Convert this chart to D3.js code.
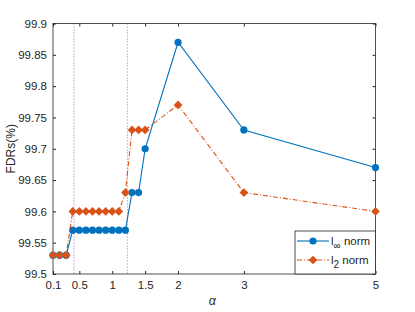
<!DOCTYPE html>
<html>
<head>
<meta charset="utf-8">
<script src="https://cdn.jsdelivr.net/npm/d3@7"></script>
<style>
  body { margin: 0; background: #fff; }
  text { font-family: "Liberation Sans", Arial, sans-serif; fill: #262626; }
</style>
</head>
<body>
<svg id="chart" width="415" height="312"></svg>
<script>
// alpha values for each run
const alphaInf = [0.1, 0.2, 0.3, 0.4, 0.5, 0.6, 0.7, 0.8, 0.9, 1.0, 1.1, 1.2, 1.3, 1.4, 1.5, 2, 3, 5];
const fdrInf   = [99.53, 99.53, 99.53, 99.57, 99.57, 99.57, 99.57, 99.57, 99.57, 99.57, 99.57, 99.57, 99.63, 99.63, 99.7, 99.87, 99.73, 99.67];
const alphaL2  = [0.1, 0.2, 0.3, 0.4, 0.5, 0.6, 0.7, 0.8, 0.9, 1.0, 1.1, 1.2, 1.3, 1.4, 1.5, 2, 3, 5];
const fdrL2    = [99.53, 99.53, 99.53, 99.6, 99.6, 99.6, 99.6, 99.6, 99.6, 99.6, 99.6, 99.63, 99.73, 99.73, 99.73, 99.77, 99.63, 99.6];
const xTicks = [0.1, 0.5, 1, 1.5, 2, 3, 5];
const yTicks = [99.5, 99.55, 99.6, 99.65, 99.7, 99.75, 99.8, 99.85, 99.9];
const thresholds = [0.42, 1.23];

const blue = '#0072BD', orange = '#D95319';
const pLeft = 53, pRight = 375.5, pTop = 23.5, pBottom = 274;

const svg = d3.select('#chart');
const x = d3.scaleLinear().domain([0.1, 5]).range([pLeft, pRight]);
const y = d3.scaleLinear().domain([99.5, 99.9]).range([pBottom, pTop]);

// threshold lines
svg.append('g').selectAll('line')
  .data(thresholds)
  .join('line')
  .attr('x1', d => x(d)).attr('x2', d => x(d))
  .attr('y1', pTop).attr('y2', pBottom)
  .attr('stroke', '#a862c4')
  .attr('stroke-width', 1)
  .attr('stroke-dasharray', '1,2');

// axes (ticks inside, box)
const axStyle = g => {
  g.select('.domain').remove();
  g.selectAll('line').attr('stroke', '#262626');
  g.selectAll('text').attr('font-size', 11.5).attr('fill', '#262626')
    .attr('font-family', '"Liberation Sans", Arial, sans-serif');
};
svg.append('g').attr('transform', `translate(0,${pBottom})`)
  .call(d3.axisBottom(x).tickValues(xTicks).tickSizeInner(-3).tickSizeOuter(0).tickPadding(7).tickFormat(d3.format('')))
  .call(axStyle);
svg.append('g').attr('transform', `translate(0,${pTop})`)
  .call(d3.axisTop(x).tickValues(xTicks).tickSizeInner(-3).tickSizeOuter(0).tickFormat(''))
  .call(axStyle);
svg.append('g').attr('transform', `translate(${pLeft},0)`)
  .call(d3.axisLeft(y).tickValues(yTicks).tickSizeInner(-3).tickSizeOuter(0).tickPadding(6).tickFormat(d3.format('')))
  .call(axStyle);
svg.append('g').attr('transform', `translate(${pRight},0)`)
  .call(d3.axisRight(y).tickValues(yTicks).tickSizeInner(-3).tickSizeOuter(0).tickFormat(''))
  .call(axStyle);
svg.append('rect')
  .attr('x', pLeft).attr('y', pTop).attr('width', pRight - pLeft).attr('height', pBottom - pTop)
  .attr('fill', 'none').attr('stroke', '#262626').attr('stroke-width', 0.8);

// labels
svg.append('text').attr('x', x(2.52)).attr('y', 305).attr('text-anchor', 'middle')
  .attr('font-size', 12.5).attr('font-style', 'italic')
  .attr('font-family', '"Liberation Serif", serif').text('α');
svg.append('text').attr('transform', `translate(15,${(pTop + pBottom) / 2}) rotate(-90)`)
  .attr('text-anchor', 'middle').attr('font-size', 12).text('FDRs(%)');

// series
const line = d3.line().x(d => x(d[0])).y(d => y(d[1]));
const infData = alphaInf.map((a, i) => [a, fdrInf[i]]);
const l2Data = alphaL2.map((a, i) => [a, fdrL2[i]]);
const diamond = d3.symbol().type(d3.symbolDiamond2).size(48);

svg.append('path').datum(infData).attr('d', line)
  .attr('fill', 'none').attr('stroke', blue).attr('stroke-width', 1.1);
svg.append('g').selectAll('circle').data(infData).join('circle')
  .attr('cx', d => x(d[0])).attr('cy', d => y(d[1])).attr('r', 3.6).attr('fill', blue);

svg.append('path').datum(l2Data).attr('d', line)
  .attr('fill', 'none').attr('stroke', orange).attr('stroke-width', 1.1)
  .attr('stroke-dasharray', '5,2,1,2');
svg.append('g').selectAll('path').data(l2Data).join('path')
  .attr('transform', d => `translate(${x(d[0])},${y(d[1])})`)
  .attr('d', diamond).attr('fill', orange);

// legend
const lg = svg.append('g');
lg.append('rect').attr('x', 295).attr('y', 231).attr('width', pRight - 295).attr('height', pBottom - 231)
  .attr('fill', '#fff').attr('stroke', '#262626').attr('stroke-width', 0.8);
const entries = [
  { color: blue, dash: null, sym: 'circle', sub: '∞', yy: 241 },
  { color: orange, dash: '5,2,1,2', sym: 'diamond', sub: '2', yy: 260 }
];
entries.forEach(e => {
  lg.append('line').attr('x1', 297).attr('x2', 329).attr('y1', e.yy).attr('y2', e.yy)
    .attr('stroke', e.color).attr('stroke-width', 1.1).attr('stroke-dasharray', e.dash);
  if (e.sym === 'circle') {
    lg.append('circle').attr('cx', 313).attr('cy', e.yy).attr('r', 3.6).attr('fill', e.color);
  } else {
    lg.append('path').attr('transform', `translate(313,${e.yy})`).attr('d', diamond).attr('fill', e.color);
  }
  const t = lg.append('text').attr('x', 331).attr('y', e.yy + 4).attr('font-size', 11.5);
  t.append('tspan').text('l');
  t.append('tspan').attr('dy', 4).attr('font-size', 10).text(e.sub);
  t.append('tspan').attr('dy', -4).text(' norm');
});
</script>
</body>
</html>
